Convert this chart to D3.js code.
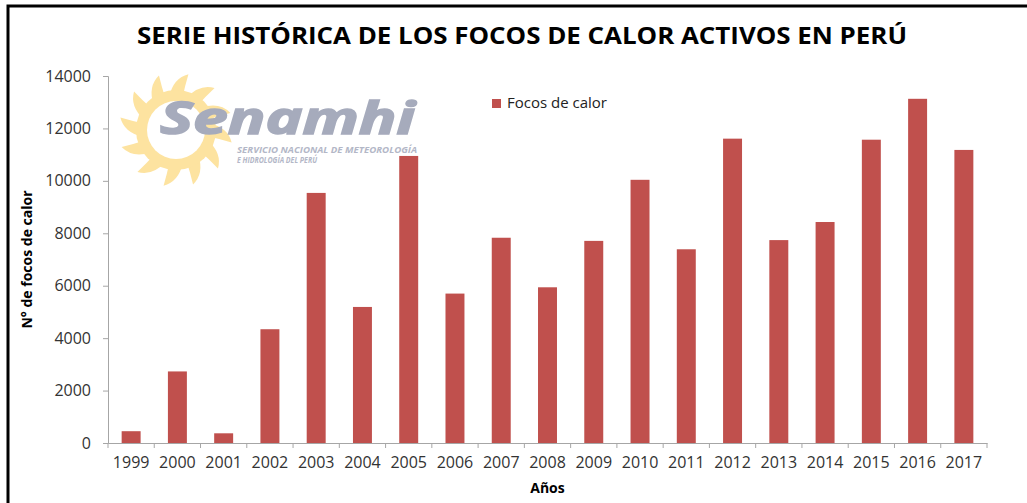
<!DOCTYPE html>
<html lang="es">
  <head>
    <meta charset="utf-8" />
    <title>Serie histórica de los focos de calor activos en Perú</title>
    <style>
      body {
        margin: 0;
        background: #fff;
      }
      svg text {
        font-family: "Open Sans", sans-serif;
      }
      .axis .domain,
      .axis line {
        stroke: #a6a6a6;
      }
      .axis text {
        fill: #333;
        font-size: 16px;
      }
    </style>
    <script src="https://d3js.org/d3.v7.min.js"></script>
  </head>
  <body>
    <svg width="1027" height="503"></svg>
    <script>
      // data
      var years = ["1999", "2000", "2001", "2002", "2003", "2004", "2005", "2006", "2007", "2008",
        "2009", "2010", "2011", "2012", "2013", "2014", "2015", "2016", "2017"];
      var focos = [450, 2730, 370, 4340, 9540, 5190, 10950, 5700, 7830, 5940,
        7710, 10040, 7390, 11610, 7740, 8430, 11570, 13130, 11180];
      var yTicks = [0, 2000, 4000, 6000, 8000, 10000, 12000, 14000];

      var svg = d3.select("svg");
      var plotLeft = 108, plotRight = 987, plotTop = 76, plotBottom = 443;

      // black frame (right and bottom edges fall outside the picture)
      svg.append("rect")
        .attr("x", 8).attr("y", 6)
        .attr("width", 1040).attr("height", 520)
        .attr("fill", "none")
        .attr("stroke", "#000")
        .attr("stroke-width", 3);

      // title
      svg.append("text")
        .attr("x", 522).attr("y", 44)
        .attr("text-anchor", "middle")
        .attr("font-size", 23)
        .attr("font-weight", "bold")
        .attr("fill", "#000")
        .attr("textLength", 770)
        .attr("lengthAdjust", "spacingAndGlyphs")
        .text("SERIE HISTÓRICA DE LOS FOCOS DE CALOR ACTIVOS EN PERÚ");

      var x = d3.scaleBand().domain(years).range([plotLeft, plotRight])
        .paddingInner(0.59).paddingOuter(0.295);
      var y = d3.scaleLinear().domain([0, 14000]).range([plotBottom, plotTop]);

      // senamhi logo (watermark)
      var logo = svg.append("g").attr("transform", "translate(176,130)");
      var rays = 12, rayPath = "";
      var p = function (r, ang) {
        return [r * Math.cos(ang), r * Math.sin(ang)];
      };
      for (var i = 0; i < rays; i++) {
        var a = (i / rays) * 2 * Math.PI, w = 0.2;
        var b1 = p(34, a - w), tip = p(57, a + 0.22), b2 = p(34, a + w),
          c1 = p(52, a - 0.05), c2 = p(44, a + 0.2);
        rayPath += "M" + b1 + "Q" + c1 + " " + tip + "Q" + c2 + " " + b2 + "Z";
      }
      logo.append("path").attr("d", rayPath).attr("fill", "#fde3a0");
      logo.append("circle").attr("r", 40).attr("fill", "#fde3a0");
      logo.append("circle").attr("r", 29).attr("fill", "#fff");
      svg.append("text")
        .attr("x", 160).attr("y", 134)
        .attr("font-size", 44)
        .attr("font-weight", "bold")
        .attr("font-style", "italic")
        .attr("fill", "#a6abbc")
        .attr("stroke", "#a6abbc")
        .attr("stroke-width", 1.5)
        .attr("textLength", 255)
        .attr("lengthAdjust", "spacingAndGlyphs")
        .text("Senamhi");
      svg.append("text")
        .attr("x", 237).attr("y", 153)
        .attr("font-size", 8.5)
        .attr("font-weight", "bold")
        .attr("font-style", "italic")
        .attr("fill", "#b3b7c7")
        .attr("textLength", 180)
        .attr("lengthAdjust", "spacingAndGlyphs")
        .text("SERVICIO NACIONAL DE METEOROLOGÍA");
      svg.append("text")
        .attr("x", 237).attr("y", 163)
        .attr("font-size", 8.5)
        .attr("font-weight", "bold")
        .attr("font-style", "italic")
        .attr("fill", "#b3b7c7")
        .attr("textLength", 80)
        .attr("lengthAdjust", "spacingAndGlyphs")
        .text("E HIDROLOGÍA DEL PERÚ");

      // y axis
      svg.append("g")
        .attr("class", "axis")
        .attr("transform", "translate(" + plotLeft + ",0)")
        .call(d3.axisLeft(y).tickValues(yTicks).tickSize(5).tickPadding(12).tickFormat(d3.format("d")));

      // x axis: labels at the centre, ticks on the category edges
      var xAxis = svg.append("g")
        .attr("class", "axis")
        .attr("transform", "translate(0," + plotBottom + ")")
        .call(d3.axisBottom(x).tickSize(0).tickPadding(14).tickSizeOuter(0));
      var step = x.step();
      var edges = years.map(function (d) { return x(d) + x.bandwidth() / 2 - step / 2; });
      edges.push(plotRight);
      xAxis.selectAll(".edge")
        .data(edges)
        .enter()
        .append("line")
        .attr("class", "edge")
        .attr("x1", function (d) { return d; })
        .attr("x2", function (d) { return d; })
        .attr("y1", 0).attr("y2", 5);

      // bars
      svg.append("g")
        .selectAll("rect")
        .data(focos)
        .enter()
        .append("rect")
        .attr("x", function (d, i) { return x(years[i]); })
        .attr("y", function (d) { return y(d); })
        .attr("width", x.bandwidth())
        .attr("height", function (d) { return y(0) - y(d); })
        .attr("fill", "#c0504d");

      // axis titles
      svg.append("text")
        .attr("x", (plotLeft + plotRight) / 2).attr("y", 493)
        .attr("text-anchor", "middle")
        .attr("font-size", 14)
        .attr("font-weight", "bold")
        .text("Años");
      svg.append("text")
        .attr("transform", "translate(32," + (plotTop + plotBottom) / 2 + ") rotate(-90)")
        .attr("text-anchor", "middle")
        .attr("font-size", 14)
        .attr("font-weight", "bold")
        .text("N° de focos de calor");

      // legend
      var legend = svg.append("g").attr("transform", "translate(492,99)");
      legend.append("rect").attr("width", 9).attr("height", 9).attr("fill", "#c0504d");
      legend.append("text")
        .attr("x", 15).attr("y", 9)
        .attr("font-size", 15)
        .attr("fill", "#222")
        .text("Focos de calor");
    </script>
  </body>
</html>
